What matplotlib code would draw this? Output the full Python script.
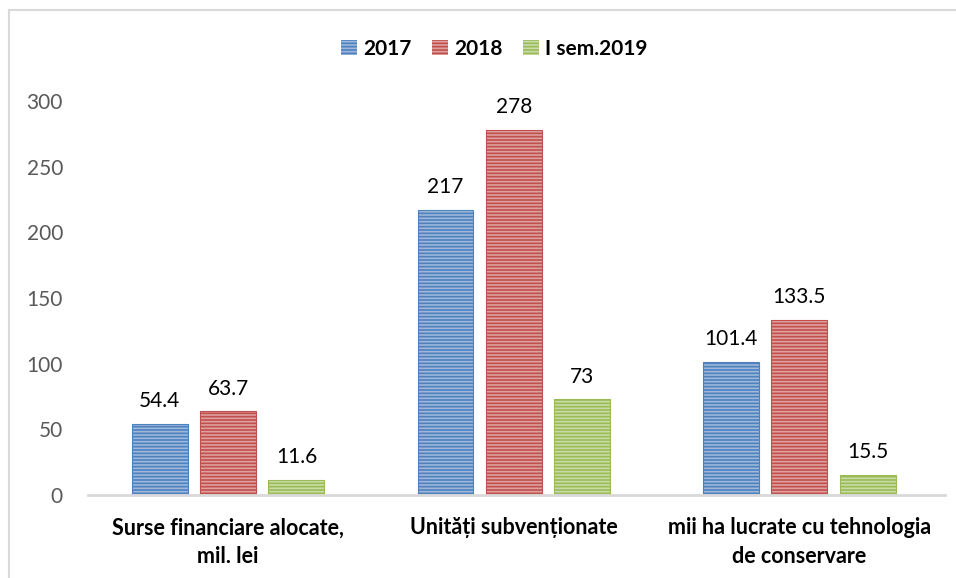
import numpy as np
import matplotlib.pyplot as plt
from matplotlib.patches import Rectangle
from matplotlib.lines import Line2D

plt.rcParams['font.family'] = ['Lato', 'DejaVu Sans']
plt.rcParams['hatch.linewidth'] = 1.2

categories = ['Surse financiare alocate,\nmil. lei', 'Unități subvenționate',
              'mii ha lucrate cu tehnologia\nde conservare']
series = ['2017', '2018', 'I sem.2019']
values_2017 = [54.4, 217, 101.4]
values_2018 = [63.7, 278, 133.5]
values_2019 = [11.6, 73, 15.5]
labels_2017 = ['54.4', '217', '101.4']
labels_2018 = ['63.7', '278', '133.5']
labels_2019 = ['11.6', '73', '15.5']

colors = ['#4F81BD', '#C0504D', '#9BBB59']
stripes = ['#9DB8DC', '#E0A09E', '#C9DCA6']

fig = plt.figure(figsize=(9.56, 5.78), dpi=100)
ax = fig.add_axes([0.092, 0.1436, 0.8965, 0.6817])

x = np.arange(len(categories))
width = 0.196
step = 0.239
all_vals = [values_2017, values_2018, values_2019]
all_labels = [labels_2017, labels_2018, labels_2019]
for i in range(3):
    pos = x + (i - 1) * step
    ax.bar(pos, all_vals[i], width, color=colors[i], edgecolor=stripes[i],
           hatch='-----', linewidth=0)
    ax.bar(pos, all_vals[i], width, fill=False, edgecolor=colors[i], linewidth=0.8)
    for p, v, lab in zip(pos, all_vals[i], all_labels[i]):
        ax.annotate(lab, (p, v), xytext=(0, 9), textcoords='offset points',
                    ha='center', va='bottom', fontsize=15, color='black')

ax.set_xlim(-0.491, 2.51)
ax.set_ylim(0, 300)
ax.set_yticks(range(0, 301, 50))
ax.set_xticks(x)
ax.set_xticklabels(categories, fontsize=15.5, fontweight='bold', linespacing=1.45)
ax.tick_params(axis='x', length=0, pad=16)
ax.tick_params(axis='y', length=0, pad=18, labelsize=15, labelcolor='#595959')
for s in ['top', 'right', 'left']:
    ax.spines[s].set_visible(False)
ax.spines['bottom'].set_color('#D9D9D9')
ax.spines['bottom'].set_linewidth(2)

handles = []
for i in range(3):
    handles.append(Rectangle((0, 0), 1, 1, facecolor=colors[i], edgecolor=stripes[i],
                             hatch='-----', linewidth=0))
fig.legend(handles, series, loc='center', bbox_to_anchor=(0.517, 0.916), ncol=3,
           frameon=False, prop={'weight': 'bold', 'size': 15},
           handlelength=0.75, handleheight=0.75, handletextpad=0.3, columnspacing=1.0)

# chart frame
fig.add_artist(Line2D([9 / 956, 9 / 956], [0, 1 - 10 / 578], color='#D9D9D9', linewidth=1.5))
fig.add_artist(Line2D([9 / 956, 1], [1 - 10 / 578, 1 - 10 / 578], color='#D9D9D9', linewidth=1.5))

fig.savefig('out.png', dpi=100)
